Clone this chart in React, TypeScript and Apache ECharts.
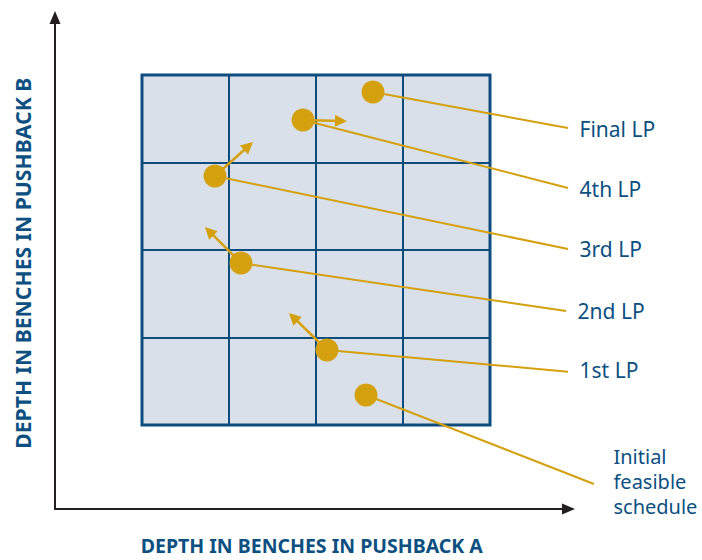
import React, { useEffect, useRef } from "react";
import * as echarts from "echarts";

// Schedule points (depth in benches, pushback A / pushback B), inner grid units 0..4
const stepNames = ["Final LP", "4th LP", "3rd LP", "2nd LP", "1st LP", "Initial\nfeasible\nschedule"];
const pointA = [2.655, 1.851, 0.839, 1.138, 2.126, 2.575];
const pointB = [3.806, 3.486, 2.846, 1.851, 0.857, 0.343];

// Leader-line ends, where the text labels sit
const labelA = [4.897, 4.897, 4.897, 4.874, 4.897, 5.195];
const labelB = [3.394, 2.709, 2.011, 1.303, 0.609, -0.674];

// Direction arrows: start point index and arrowhead position
const arrowFrom = [2, 1, 3, 4];
const arrowToA = [1.224, 2.287, 0.772, 1.739];
const arrowToB = [3.189, 3.474, 2.215, 1.232];

const xTitle = "DEPTH IN BENCHES IN PUSHBACK A";
const yTitle = "DEPTH IN BENCHES IN PUSHBACK B";

const GOLD = "#d4a00e";
const BLUE = "#0c4d7e";
const TEXT = "#0b5081";
const FONT = "'Noto Sans', sans-serif";

const labelShift = [1, 1, 0, 0, -2, -2];

export default function App() {
  const ref = useRef<HTMLDivElement>(null);
  useEffect(() => {
    if (!ref.current) return;
    const chart = echarts.init(ref.current, null, { renderer: "svg" });
    const leaderData = pointA.map((a, i) => ({
      coords: [
        [a, pointB[i]],
        [labelA[i], labelB[i]],
      ],
    }));
    const arrowData = arrowFrom.map((p, i) => ({
      coords: [
        [pointA[p], pointB[p]],
        [arrowToA[i], arrowToB[i]],
      ],
    }));
    const labelData = labelA.map((a, i) => {
      const last = i === labelA.length - 1;
      return {
        value: [a, labelB[i]],
        name: stepNames[i],
        label: last
          ? { distance: 19, fontSize: 20, lineHeight: 25, offset: [0, labelShift[i]] }
          : { distance: 11, offset: [0, labelShift[i]] },
      };
    });
    chart.setOption({
      animation: false,
      grid: [
        {
          left: 142,
          top: 75,
          width: 348,
          height: 350,
          show: true,
          backgroundColor: "#d9e0ea",
          borderColor: BLUE,
          borderWidth: 3,
        },
        { left: 55, top: 17.5, right: 133.5, bottom: 48, show: false },
      ],
      xAxis: [
        {
          type: "value",
          gridIndex: 0,
          min: 0,
          max: 4,
          interval: 1,
          axisLine: { show: false },
          axisTick: { show: false },
          axisLabel: { show: false },
          splitLine: { show: true, lineStyle: { color: BLUE, width: 2 } },
        },
        {
          type: "value",
          gridIndex: 1,
          min: 0,
          max: 1,
          axisLine: {
            show: true,
            onZero: false,
            symbol: ["none", "triangle"],
            symbolSize: [11, 13],
            lineStyle: { color: "#231f20", width: 2 },
          },
          axisTick: { show: false },
          axisLabel: { show: false },
          splitLine: { show: false },
          name: xTitle,
          nameLocation: "middle",
          nameGap: 26,
          nameTextStyle: { color: TEXT, fontFamily: FONT, fontWeight: "bold", fontSize: 19.5 },
        },
      ],
      yAxis: [
        {
          type: "value",
          gridIndex: 0,
          min: 0,
          max: 4,
          interval: 1,
          axisLine: { show: false },
          axisTick: { show: false },
          axisLabel: { show: false },
          splitLine: { show: true, lineStyle: { color: BLUE, width: 2 } },
        },
        {
          type: "value",
          gridIndex: 1,
          min: 0,
          max: 1,
          axisLine: {
            show: true,
            onZero: false,
            symbol: ["none", "triangle"],
            symbolSize: [11, 13],
            lineStyle: { color: "#231f20", width: 2 },
          },
          axisTick: { show: false },
          axisLabel: { show: false },
          splitLine: { show: false },
          name: yTitle,
          nameLocation: "middle",
          nameGap: 22,
          nameTextStyle: { color: TEXT, fontFamily: FONT, fontWeight: "bold", fontSize: 21.2 },
        },
      ],
      series: [
        {
          type: "lines",
          coordinateSystem: "cartesian2d",
          xAxisIndex: 0,
          yAxisIndex: 0,
          clip: false,
          silent: true,
          z: 3,
          lineStyle: { color: GOLD, width: 2, opacity: 1 },
          symbol: ["none", "none"],
          data: leaderData,
        },
        {
          type: "lines",
          coordinateSystem: "cartesian2d",
          xAxisIndex: 0,
          yAxisIndex: 0,
          clip: false,
          silent: true,
          z: 3,
          lineStyle: { color: GOLD, width: 2.5, opacity: 1 },
          symbol: ["none", "triangle"],
          symbolSize: 12,
          data: arrowData,
        },
        {
          type: "scatter",
          xAxisIndex: 0,
          yAxisIndex: 0,
          clip: false,
          z: 4,
          symbol: "circle",
          symbolSize: 23,
          itemStyle: { color: GOLD, opacity: 1 },
          data: pointA.map((a, i) => [a, pointB[i]]),
        },
        {
          type: "scatter",
          xAxisIndex: 0,
          yAxisIndex: 0,
          clip: false,
          z: 5,
          symbol: "circle",
          symbolSize: 1,
          itemStyle: { color: "rgba(0,0,0,0)", opacity: 1 },
          label: {
            show: true,
            position: "right",
            formatter: "{b}",
            color: TEXT,
            fontFamily: FONT,
            fontSize: 21,
            align: "left",
          },
          data: labelData,
        },
      ],
    });
    return () => chart.dispose();
  }, []);
  return <div ref={ref} style={{ width: 702, height: 560, position: "absolute", left: 0, top: 0, background: "#fff" }} />;
}
